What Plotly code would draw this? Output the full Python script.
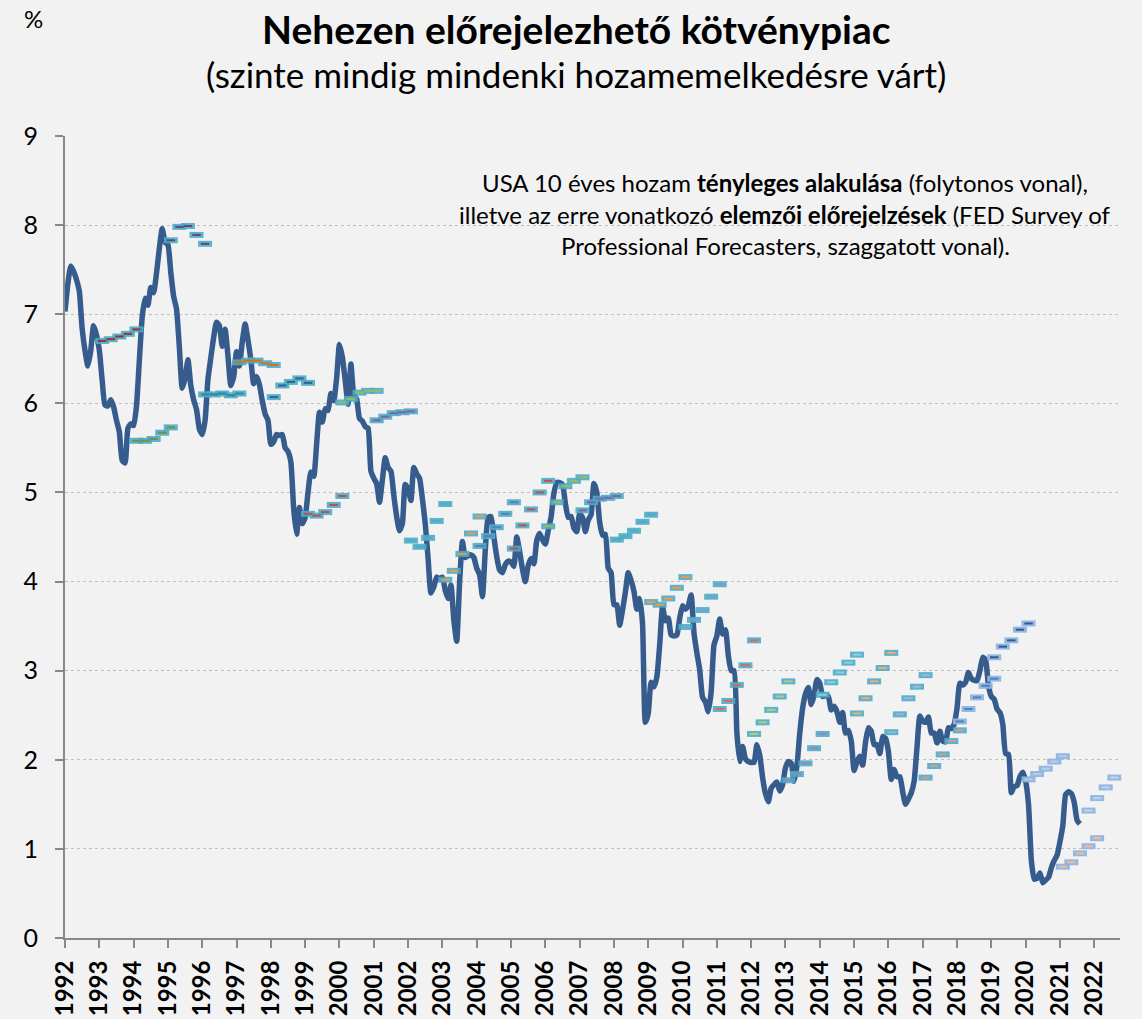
import plotly.graph_objects as go

# ---------------- DATA ----------------
# US 10-year Treasury yield, monthly averages (%), Jan 1992 - Aug 2021
y1992 = [7.03, 7.34, 7.54, 7.48, 7.39, 7.26, 6.84, 6.59, 6.42, 6.59, 6.87, 6.77]
y1993 = [6.60, 6.26, 5.98, 5.97, 6.04, 5.96, 5.81, 5.68, 5.36, 5.33, 5.72, 5.77]
y1994 = [5.75, 5.97, 6.48, 6.97, 7.18, 7.10, 7.30, 7.24, 7.46, 7.74, 7.96, 7.81]
y1995 = [7.78, 7.47, 7.20, 7.06, 6.63, 6.17, 6.28, 6.49, 6.20, 6.04, 5.93, 5.71]
y1996 = [5.65, 5.81, 6.27, 6.51, 6.74, 6.91, 6.87, 6.64, 6.83, 6.53, 6.20, 6.30]
y1997 = [6.58, 6.42, 6.69, 6.89, 6.71, 6.49, 6.22, 6.30, 6.21, 6.03, 5.88, 5.81]
y1998 = [5.54, 5.57, 5.65, 5.64, 5.65, 5.50, 5.46, 5.34, 4.81, 4.53, 4.83, 4.65]
y1999 = [4.72, 5.00, 5.23, 5.18, 5.54, 5.90, 5.79, 5.94, 5.92, 6.11, 6.03, 6.28]
y2000 = [6.66, 6.52, 6.26, 5.99, 6.44, 6.10, 6.05, 5.83, 5.80, 5.74, 5.72, 5.24]
y2001 = [5.16, 5.10, 4.89, 5.14, 5.39, 5.28, 5.24, 4.97, 4.73, 4.57, 4.65, 5.09]
y2002 = [5.04, 4.91, 5.28, 5.21, 5.16, 4.93, 4.65, 4.26, 3.87, 3.94, 4.05, 4.03]
y2003 = [4.05, 3.90, 3.81, 3.96, 3.57, 3.33, 3.98, 4.45, 4.27, 4.29, 4.30, 4.27]
y2004 = [4.15, 4.08, 3.83, 4.35, 4.72, 4.73, 4.50, 4.28, 4.13, 4.10, 4.19, 4.23]
y2005 = [4.22, 4.17, 4.50, 4.34, 4.14, 4.00, 4.18, 4.26, 4.20, 4.46, 4.54, 4.47]
y2006 = [4.42, 4.57, 4.72, 4.99, 5.11, 5.11, 5.09, 4.88, 4.72, 4.73, 4.60, 4.56]
y2007 = [4.76, 4.72, 4.56, 4.69, 4.75, 5.10, 5.00, 4.67, 4.52, 4.53, 4.15, 4.10]
y2008 = [3.74, 3.74, 3.51, 3.68, 3.88, 4.10, 4.01, 3.89, 3.69, 3.81, 3.53, 2.42]
y2009 = [2.52, 2.87, 2.82, 2.93, 3.29, 3.72, 3.56, 3.59, 3.40, 3.39, 3.40, 3.59]
y2010 = [3.73, 3.69, 3.73, 3.85, 3.42, 3.20, 3.01, 2.70, 2.65, 2.54, 2.76, 3.29]
y2011 = [3.39, 3.58, 3.41, 3.46, 3.17, 3.00, 3.00, 2.30, 1.98, 2.15, 2.01, 1.98]
y2012 = [1.97, 1.97, 2.17, 2.05, 1.80, 1.62, 1.53, 1.68, 1.72, 1.75, 1.65, 1.72]
y2013 = [1.91, 1.98, 1.96, 1.76, 1.93, 2.30, 2.58, 2.74, 2.81, 2.62, 2.72, 2.90]
y2014 = [2.86, 2.71, 2.72, 2.71, 2.56, 2.60, 2.54, 2.42, 2.53, 2.30, 2.33, 2.21]
y2015 = [1.88, 1.98, 2.04, 1.94, 2.20, 2.36, 2.32, 2.17, 2.17, 2.07, 2.26, 2.24]
y2016 = [2.09, 1.78, 1.89, 1.81, 1.81, 1.64, 1.50, 1.56, 1.63, 1.76, 2.14, 2.49]
y2017 = [2.43, 2.42, 2.48, 2.30, 2.30, 2.19, 2.32, 2.21, 2.20, 2.36, 2.35, 2.40]
y2018 = [2.58, 2.86, 2.84, 2.87, 2.98, 2.91, 2.89, 2.89, 3.00, 3.15, 3.12, 2.83]
y2019 = [2.71, 2.68, 2.57, 2.53, 2.40, 2.07, 2.06, 1.63, 1.70, 1.71, 1.81, 1.86]
y2020 = [1.76, 1.50, 0.87, 0.66, 0.67, 0.73, 0.62, 0.65, 0.68, 0.79, 0.87, 0.93]
y2021 = [1.08, 1.26, 1.61, 1.64, 1.62, 1.52, 1.32, 1.28]

# SPF forecasts: survey start (year, quarter) and 5 quarterly forecasts
survey_year    = [1993, 1994, 1995, 1996, 1997, 1998, 1999, 2000, 2001, 2002,
                  2003, 2004, 2005, 2006, 2007, 2008, 2009, 2010, 2011, 2012,
                  2013, 2014, 2015, 2016, 2017, 2018, 2019, 2020, 2021, 2021]
survey_quarter = [1, 1, 1, 1, 1, 1, 1, 1, 1, 1,
                  1, 1, 1, 1, 1, 1, 1, 1, 1, 1,
                  1, 1, 1, 1, 1, 1, 1, 1, 1, 4]
f1993 = [6.70, 6.72, 6.75, 6.78, 6.83]
f1994 = [5.58, 5.58, 5.60, 5.67, 5.73]
f1995 = [7.83, 7.98, 7.99, 7.89, 7.79]
f1996 = [6.10, 6.10, 6.11, 6.09, 6.11]
f1997 = [6.46, 6.48, 6.48, 6.45, 6.43]
f1998 = [6.07, 6.20, 6.24, 6.28, 6.23]
f1999 = [4.76, 4.74, 4.78, 4.86, 4.96]
f2000 = [6.01, 6.05, 6.12, 6.14, 6.14]
f2001 = [5.81, 5.85, 5.89, 5.90, 5.91]
f2002 = [4.46, 4.39, 4.49, 4.68, 4.87]
f2003 = [4.02, 4.12, 4.31, 4.54, 4.73]
f2004 = [4.40, 4.51, 4.61, 4.76, 4.89]
f2005 = [4.37, 4.63, 4.81, 5.00, 5.13]
f2006 = [4.62, 4.89, 5.07, 5.13, 5.17]
f2007 = [4.80, 4.89, 4.93, 4.94, 4.96]
f2008 = [4.47, 4.51, 4.57, 4.67, 4.75]
f2009 = [3.77, 3.74, 3.81, 3.93, 4.05]
f2010 = [3.49, 3.57, 3.68, 3.83, 3.97]
f2011 = [2.57, 2.66, 2.84, 3.06, 3.34]
f2012 = [2.29, 2.42, 2.56, 2.71, 2.88]
f2013 = [1.77, 1.84, 1.96, 2.13, 2.29]
f2014 = [2.73, 2.87, 2.98, 3.09, 3.18]
f2015 = [2.52, 2.69, 2.88, 3.03, 3.20]
f2016 = [2.31, 2.51, 2.69, 2.82, 2.95]
f2017 = [1.80, 1.93, 2.06, 2.21, 2.33]
f2018 = [2.43, 2.57, 2.70, 2.83, 2.91]
f2019 = [3.15, 3.27, 3.34, 3.46, 3.53]
f2020 = [1.78, 1.84, 1.90, 1.98, 2.04]
f2021 = [0.80, 0.85, 0.95, 1.03, 1.12]
f2021q4 = [1.43, 1.57, 1.69, 1.80, 1.90]

forecasts = [f1993, f1994, f1995, f1996, f1997, f1998, f1999, f2000, f2001, f2002,
             f2003, f2004, f2005, f2006, f2007, f2008, f2009, f2010, f2011, f2012,
             f2013, f2014, f2015, f2016, f2017, f2018, f2019, f2020, f2021, f2021q4]

inner_colors = ["#953735", "#76923C", "#5F497A", "#31859C", "#E46C0A", "#376092",
                "#C0504D", "#9BBB59", "#8064A2", "#4BACC6", "#F79646", "#4F81BD",
                "#C0504D", "#9BBB59", "#8064A2", "#4BACC6", "#F79646", "#7F9FCB",
                "#E0655A", "#B5CC7A", "#9C85B8", "#8FD0E0", "#F9A96B", "#9DB5D8",
                "#DA9694", "#4F81BD", "#2E5A8C", "#B8CCE4", "#FBB98A", "#C5D3E8"]
outline_colors = ["rgba(75,172,198,0.9)"] * 25 + ["rgba(141,180,226,0.95)"] * 5

tick_years = list(range(1992, 2023))

note_lines = [
    "USA 10 éves hozam <b>tényleges alakulása</b> (folytonos vonal),",
    "illetve az erre vonatkozó <b>elemzői előrejelzések</b> (FED Survey of",
    "Professional Forecasters, szaggatott vonal).",
]

# ---------------- FIGURE ----------------
yields = (y1992 + y1993 + y1994 + y1995 + y1996 + y1997 + y1998 + y1999 + y2000 +
          y2001 + y2002 + y2003 + y2004 + y2005 + y2006 + y2007 + y2008 + y2009 +
          y2010 + y2011 + y2012 + y2013 + y2014 + y2015 + y2016 + y2017 + y2018 +
          y2019 + y2020 + y2021)
month_x = [1992 + i / 12 for i in range(len(yields))]

FONT = "Lato, 'Open Sans', sans-serif"

fig = go.Figure()
fig.add_trace(go.Scatter(
    x=month_x, y=yields, mode="lines",
    line=dict(color="#365C8D", width=5.5, shape="spline", smoothing=0.5),
    hoverinfo="skip", showlegend=False))

for yr, q, vals, ic, oc in zip(survey_year, survey_quarter, forecasts, inner_colors, outline_colors):
    xs = [yr + (3 * (q - 1) + 1) / 12 + k * 0.25 for k in range(len(vals))]
    fig.add_trace(go.Scatter(
        x=xs, y=vals, mode="markers", cliponaxis=False, showlegend=False, hoverinfo="skip",
        marker=dict(symbol="line-ew", size=10, line=dict(color=oc, width=6))))
    fig.add_trace(go.Scatter(
        x=xs, y=vals, mode="markers", cliponaxis=False, showlegend=False, hoverinfo="skip",
        marker=dict(symbol="line-ew", size=6, line=dict(color=ic, width=2))))

W, H = 1142, 1019
PL, PT, PR, PB = 65, 136, 1120, 938          # plot area in page pixels
L, T, R, B = PL, PT, W - PR, H - PB
pw, ph = W - L - R, H - T - B


def px(xp):
    return (xp - L) / pw


def py(yp):
    return (H - B - yp) / ph


fig.update_layout(
    width=W, height=H,
    margin=dict(l=L, r=R, t=T, b=B, autoexpand=False),
    paper_bgcolor="#F2F2F2", plot_bgcolor="#F2F2F2",
    font=dict(family=FONT, color="#000000"),
    hovermode=False,
    xaxis=dict(
        range=[1992, 2022.75], tickmode="array", tickvals=tick_years,
        ticktext=[str(v) for v in tick_years], tickangle=-90,
        tickfont=dict(size=24, weight="bold", family=FONT),
        showgrid=False, zeroline=False, showline=True, linecolor="#888888", linewidth=2,
        ticks="outside", ticklen=8, tickcolor="#888888", tickwidth=2,
        ticklabelstandoff=3, automargin=False),
    yaxis=dict(
        range=[0, 9], tickmode="linear", tick0=0, dtick=1,
        tickfont=dict(size=25, family=FONT),
        showgrid=True, gridcolor="#BFBFBF", griddash="3px,3px", gridwidth=1,
        zeroline=False, showline=True, linecolor="#888888", linewidth=2,
        ticks="outside", ticklen=8, tickcolor="#888888", tickwidth=2,
        ticklabelstandoff=12, automargin=False),
)

fig.add_annotation(xref="paper", yref="paper", x=px(576), y=py(29),
                   text="<b>Nehezen előrejelezhető kötvénypiac</b>", showarrow=False,
                   font=dict(size=39, family=FONT), xanchor="center", yanchor="middle")
fig.add_annotation(xref="paper", yref="paper", x=px(576), y=py(74),
                   text="(szinte mindig mindenki hozamemelkedésre várt)", showarrow=False,
                   font=dict(size=35, family=FONT), xanchor="center", yanchor="middle")
fig.add_annotation(xref="paper", yref="paper", x=px(33), y=py(19),
                   text="%", showarrow=False,
                   font=dict(size=24, family=FONT), xanchor="center", yanchor="middle")
for line_txt, ly in zip(note_lines, [182, 214, 245]):
    fig.add_annotation(xref="paper", yref="paper", x=px(785), y=py(ly),
                       text=line_txt, showarrow=False, align="center",
                       font=dict(size=24, family=FONT), xanchor="center", yanchor="middle")

# remove the default 8px page margin so the figure fills the window exactly
fig.write_html("out.html", config={"displayModeBar": False},
               post_script="document.body.style.margin='0px';")
